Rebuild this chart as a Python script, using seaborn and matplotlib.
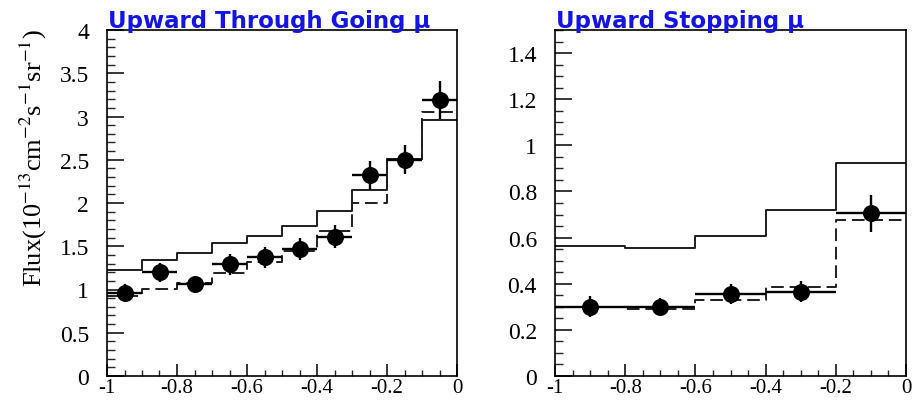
import numpy as np
import pandas as pd
import matplotlib
matplotlib.use("Agg")
import matplotlib.pyplot as plt
import seaborn as sns
from matplotlib.ticker import MultipleLocator
from matplotlib.transforms import offset_copy

# ---------------- data ----------------
# Upward through-going muons (10 bins in cos(zenith))
tg_edges = [-1.0, -0.9, -0.8, -0.7, -0.6, -0.5, -0.4, -0.3, -0.2, -0.1, 0.0]
tg_centers = [-0.95, -0.85, -0.75, -0.65, -0.55, -0.45, -0.35, -0.25, -0.15, -0.05]
tg_flux = [0.96, 1.20, 1.06, 1.29, 1.37, 1.47, 1.61, 2.32, 2.50, 3.19]
tg_err = [0.10, 0.11, 0.10, 0.12, 0.12, 0.13, 0.13, 0.17, 0.17, 0.22]
tg_noosc = [1.23, 1.345, 1.425, 1.535, 1.62, 1.73, 1.91, 2.145, 2.51, 2.96]
tg_bestfit = [0.93, 1.01, 1.07, 1.19, 1.32, 1.45, 1.68, 2.00, 2.51, 3.05]

# Upward stopping muons (5 bins)
st_edges = [-1.0, -0.8, -0.6, -0.4, -0.2, 0.0]
st_centers = [-0.9, -0.7, -0.5, -0.3, -0.1]
st_flux = [0.30, 0.30, 0.355, 0.365, 0.705]
st_err = [0.045, 0.04, 0.045, 0.045, 0.08]
st_noosc = [0.565, 0.557, 0.605, 0.72, 0.925]
st_bestfit = [0.298, 0.29, 0.328, 0.387, 0.677]

titles = ["Upward Through Going \u03bc", "Upward Stopping \u03bc"]
ylabel = r"Flux(10$^{-13}$cm$^{-2}$s$^{-1}$sr$^{-1}$)"
x_ticks = [-1, -0.8, -0.6, -0.4, -0.2, 0]
x_ticklabels = ["-1", "-0.8", "-0.6", "-0.4", "-0.2", "0"]
tg_yticks = [0, 0.5, 1, 1.5, 2, 2.5, 3, 3.5, 4]
tg_yticklabels = ["0", "0.5", "1", "1.5", "2", "2.5", "3", "3.5", "4"]
st_yticks = [0, 0.2, 0.4, 0.6, 0.8, 1.0, 1.2, 1.4]
st_yticklabels = ["0", "0.2", "0.4", "0.6", "0.8", "1", "1.2", "1.4"]

# ---------------- style ----------------
sns.set_theme(style="ticks")
plt.rcParams["font.family"] = ["Liberation Serif", "DejaVu Serif"]
plt.rcParams["mathtext.fontset"] = "stix"
plt.rcParams["axes.unicode_minus"] = False

fig = plt.figure(figsize=(9.14, 4.02), dpi=100)
W, H = 914, 402
ax1 = fig.add_axes([107 / W, (H - 377) / H, 350 / W, 346 / H])
ax2 = fig.add_axes([555 / W, (H - 377) / H, 351 / W, 346 / H])

LC = "#1e1e1e"


def draw(ax, edges, centers, flux, err, noosc, bestfit, ylim, ymaj, ymin,
         yticks, yticklabels, title):
    half = (edges[1] - edges[0]) / 2.0
    x_steps = list(edges)
    y_no = list(noosc) + [noosc[-1]]
    y_bf = list(bestfit) + [bestfit[-1]]
    sns.lineplot(x=x_steps, y=y_no, drawstyle="steps-post", color=LC, lw=1.4,
                 estimator=None, sort=False, ax=ax)
    sns.lineplot(x=x_steps, y=y_bf, drawstyle="steps-post", color=LC, lw=1.4,
                 estimator=None, sort=False, ax=ax)
    ax.lines[-1].set_dashes([6.5, 3])
    ax.errorbar(centers, flux, yerr=err, xerr=half, fmt="none", ecolor="black",
                elinewidth=1.7, capsize=0, zorder=4)
    sns.scatterplot(x=centers, y=flux, s=150, color="black", edgecolor="black",
                    linewidth=0, zorder=5, ax=ax)
    ax.set_xlim(-1, 0)
    ax.set_ylim(*ylim)
    ax.xaxis.set_minor_locator(MultipleLocator(0.05))
    ax.yaxis.set_minor_locator(MultipleLocator(ymin))
    ax.set_xticks(x_ticks)
    ax.set_xticklabels(x_ticklabels)
    ax.set_yticks(yticks)
    ax.set_yticklabels(yticklabels)
    ax.tick_params(axis="x", which="major", direction="in", length=9, width=1.1,
                   labelsize=15, pad=1.5, colors="black")
    ax.tick_params(axis="x", which="minor", direction="in", length=4.5, width=1.0)
    ax.tick_params(axis="y", which="major", direction="in", length=12, width=1.1,
                   labelsize=17, pad=13, colors="black")
    ax.tick_params(axis="y", which="minor", direction="in", length=6, width=1.0)
    for s in ax.spines.values():
        s.set_visible(True)
        s.set_color("black")
        s.set_linewidth(1.2)
    ax.set_xlabel("")
    ax.set_ylabel("")
    tr = offset_copy(ax.transAxes, fig=fig, x=1, y=2.5, units="points")
    ax.text(0.0, 1.0, title, transform=tr, ha="left", va="baseline",
            color="#1414e6", fontsize=16.5, fontweight="bold",
            family=["DejaVu Sans"])


draw(ax1, tg_edges, tg_centers, tg_flux, tg_err, tg_noosc, tg_bestfit,
     (0, 4), 0.5, 0.1, tg_yticks, tg_yticklabels, titles[0])
draw(ax2, st_edges, st_centers, st_flux, st_err, st_noosc, st_bestfit,
     (0, 1.5), 0.2, 0.05, st_yticks, st_yticklabels, titles[1])

fig.text(33 / W, 1 - 158 / H, ylabel, rotation=90, ha="center", va="center",
         fontsize=19, color="black")

fig.savefig("out.png", dpi=100)
